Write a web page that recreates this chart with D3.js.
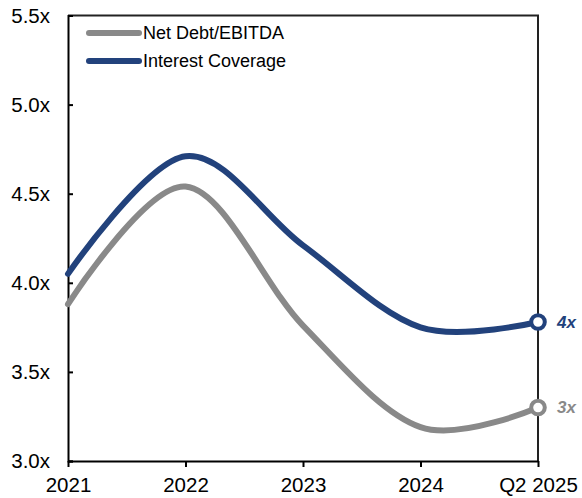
<!DOCTYPE html>
<html>
<head>
<meta charset="utf-8">
<script src="https://cdn.jsdelivr.net/npm/d3@7"></script>
<style>
  html, body { margin: 0; padding: 0; background: #fff; }
  svg { display: block; font-family: "Liberation Sans", Arial, sans-serif; }
</style>
</head>
<body>
<svg id="chart" width="582" height="498"></svg>
<script>
// Periods on the x axis
const periods = ["2021", "2022", "2023", "2024", "Q2 2025"];
// Leverage and coverage multiples
const netDebtEbitda = [3.88, 4.54, 3.76, 3.19, 3.30];
const interestCoverage = [4.05, 4.71, 4.21, 3.75, 3.78];
// Y axis ticks
const yTicks = [3.0, 3.5, 4.0, 4.5, 5.0, 5.5];

const seriesNames = ["Net Debt/EBITDA", "Interest Coverage"];
const seriesColors = ["#898989", "#22427c"];
const seriesValues = [netDebtEbitda, interestCoverage];

const svg = d3.select("#chart");
const margin = { left: 68, right: 44, top: 15.5, bottom: 37 };
const W = 582, H = 498;
const x0 = margin.left, x1 = W - margin.right;
const y0 = H - margin.bottom, y1 = margin.top;

const x = d3.scalePoint().domain(periods).range([x0, x1]);
const y = d3.scaleLinear().domain([3.0, 5.5]).range([y0, y1]);

// Frame: top and right edges
svg.append("path")
  .attr("d", `M${x0},${y1}H${x1}V${y0}`)
  .attr("fill", "none").attr("stroke", "#222").attr("stroke-width", 2);

// Left axis with inward ticks
const yAxis = svg.append("g").attr("transform", `translate(${x0},0)`)
  .call(d3.axisLeft(y).tickValues(yTicks).tickSize(-5).tickPadding(18)
    .tickFormat(d => d3.format(".1f")(d) + "x"));
yAxis.select(".domain").attr("stroke", "#000").attr("stroke-width", 2);
yAxis.selectAll(".tick line").attr("stroke", "#000").attr("stroke-width", 2);
yAxis.selectAll(".tick text").attr("font-size", 20.5).attr("fill", "#000")
  .attr("font-family", "Liberation Sans, Arial, sans-serif");

// Bottom axis with outward ticks
const xAxis = svg.append("g").attr("transform", `translate(0,${y0})`)
  .call(d3.axisBottom(x).tickSize(6).tickPadding(10).tickSizeOuter(0));
xAxis.select(".domain").attr("stroke", "#000").attr("stroke-width", 2);
xAxis.selectAll(".tick line").attr("stroke", "#000").attr("stroke-width", 2);
xAxis.selectAll(".tick text").attr("font-size", 20.5).attr("fill", "#000")
  .attr("font-family", "Liberation Sans, Arial, sans-serif");

// Smoothed lines
const line = d3.line()
  .x((d, i) => x(periods[i]))
  .y(d => y(d))
  .curve(d3.curveCardinal.tension(0));

seriesValues.forEach((vals, s) => {
  svg.append("path")
    .datum(vals)
    .attr("d", line)
    .attr("fill", "none")
    .attr("stroke", seriesColors[s])
    .attr("stroke-width", 6)
    .attr("stroke-linecap", "round");

  const last = vals.length - 1;
  svg.append("circle")
    .attr("cx", x(periods[last]))
    .attr("cy", y(vals[last]))
    .attr("r", 6.8)
    .attr("fill", "#fff")
    .attr("stroke", seriesColors[s])
    .attr("stroke-width", 4);

  svg.append("text")
    .attr("x", x(periods[last]) + 19)
    .attr("y", y(vals[last]))
    .attr("dy", "0.35em")
    .attr("font-size", 17)
    .attr("font-weight", "bold")
    .attr("font-style", "italic")
    .attr("fill", seriesColors[s])
    .text(d3.format(".0f")(vals[last]) + "x");
});

// Legend
const legend = svg.append("g");
seriesNames.forEach((name, s) => {
  const ly = 33 + s * 28;
  legend.append("line")
    .attr("x1", 89).attr("x2", 139)
    .attr("y1", ly).attr("y2", ly)
    .attr("stroke", seriesColors[s])
    .attr("stroke-width", 6)
    .attr("stroke-linecap", "round");
  legend.append("text")
    .attr("x", 143).attr("y", ly)
    .attr("dy", "0.35em")
    .attr("font-size", 18)
    .attr("fill", "#000")
    .text(name);
});
</script>
</body>
</html>
